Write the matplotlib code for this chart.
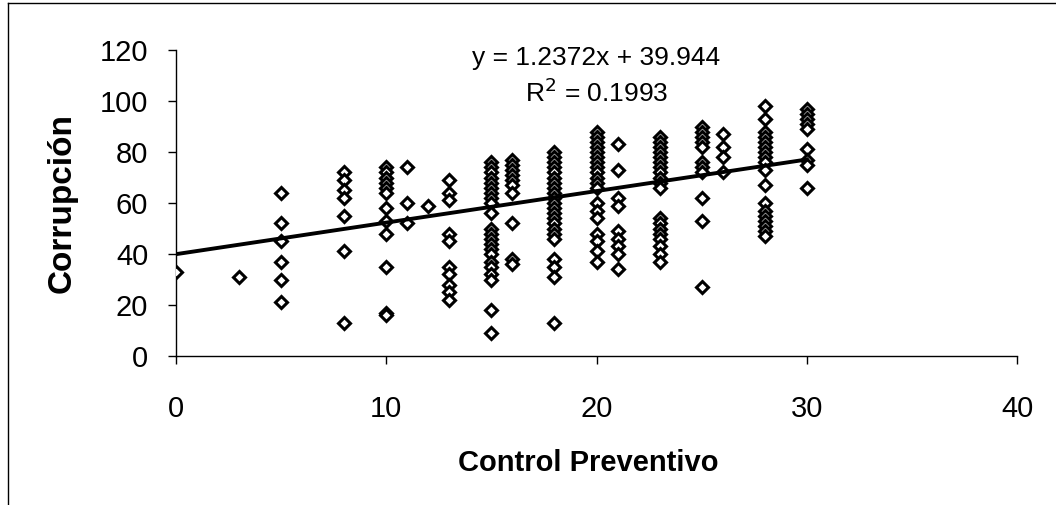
import numpy as np
import matplotlib
matplotlib.use("Agg")
import matplotlib.pyplot as plt
from matplotlib.lines import Line2D

plt.rcParams['font.family'] = ['Liberation Sans', 'DejaVu Sans']

# Valores de Control Preventivo (eje x) y Corrupción observada en cada uno
control_niveles = [0, 3, 5, 8, 10, 11, 12, 13, 15, 16, 18, 20, 21, 23, 25, 26, 28, 30]
corrupcion_por_nivel = [
    [33],
    [31],
    [64, 52, 45, 37, 30, 21],
    [72, 69, 65, 62, 55, 41, 13],
    [74, 72, 70, 68, 66, 64, 58, 53, 48, 35, 17, 16],
    [74, 60, 52],
    [59],
    [69, 64, 61, 48, 45, 35, 32, 28, 25, 22],
    [76, 74, 72, 70, 68, 66, 64, 62, 60, 56, 50, 48, 46, 44, 42, 40, 37, 35, 32, 30, 18, 9],
    [77, 75, 73, 71, 69, 67, 64, 52, 38, 36],
    [80, 78, 76, 74, 72, 70, 68, 66, 64, 62, 60, 58, 56, 54, 52, 50, 48, 46, 38, 35, 31, 13],
    [88, 86, 84, 82, 80, 78, 76, 74, 72, 70, 68, 66, 60, 57, 54, 48, 45, 41, 37],
    [83, 73, 62, 59, 49, 46, 43, 40, 34],
    [86, 84, 82, 80, 78, 76, 74, 72, 70, 68, 66, 54, 52, 50, 48, 46, 43, 40, 37],
    [90, 88, 86, 84, 82, 76, 74, 72, 62, 53, 27],
    [87, 82, 78, 72],
    [98, 93, 88, 86, 84, 82, 80, 78, 76, 73, 67, 60, 57, 55, 53, 51, 49, 47],
    [97, 95, 93, 91, 89, 81, 77, 75, 66],
]

# Recta de tendencia (según la ecuación mostrada)
pendiente = 1.2372
intercepto = 39.944
r2 = 0.1993

x_ticks = [0, 10, 20, 30, 40]
y_ticks = [0, 20, 40, 60, 80, 100, 120]

x = np.concatenate([[n] * len(v) for n, v in zip(control_niveles, corrupcion_por_nivel)])
y = np.concatenate(corrupcion_por_nivel)

fig = plt.figure(figsize=(10.56, 5.05), dpi=100)
ax = fig.add_axes([0.1667, 0.295, 0.7964, 0.606])

ax.plot(x, y, linestyle='none', marker='D', markersize=6, markerfacecolor='white',
        markeredgecolor='black', markeredgewidth=2.2, zorder=3)

xt = np.array([min(control_niveles), max(control_niveles)])
ax.plot(xt, pendiente * xt + intercepto, color='black', linewidth=2.8, zorder=4)

ax.set_xlim(0, 40)
ax.set_ylim(0, 120)
ax.set_xticks(x_ticks)
ax.set_yticks(y_ticks)
for s in ['top', 'right']:
    ax.spines[s].set_visible(False)
for s in ['left', 'bottom']:
    ax.spines[s].set_linewidth(1.0)
ax.tick_params(axis='both', direction='out', length=6, width=1, labelsize=21)
ax.tick_params(axis='x', pad=22)
ax.tick_params(axis='y', pad=14)

ax.set_xlabel('Control Preventivo', fontsize=21, fontweight='bold')
ax.xaxis.set_label_coords(0.49, -0.305)
ax.set_ylabel('Corrupción', fontsize=24, fontweight='bold', labelpad=16)

ax.text(0.5, 0.975, f'y = {pendiente}x + {intercepto}', transform=ax.transAxes,
        ha='center', va='center', fontsize=19)
ax.text(0.5, 0.86, f'R$^2$ = {r2}', transform=ax.transAxes,
        ha='center', va='center', fontsize=19)

# Marco exterior del gráfico (sólo arriba e izquierda se ven)
fig.add_artist(Line2D([8 / 1056, 8 / 1056], [0, 1 - 3 / 505], transform=fig.transFigure,
                      color='black', linewidth=1))
fig.add_artist(Line2D([8 / 1056, 1], [1 - 3 / 505, 1 - 3 / 505], transform=fig.transFigure,
                      color='black', linewidth=1))

fig.savefig('out.png', dpi=100)
